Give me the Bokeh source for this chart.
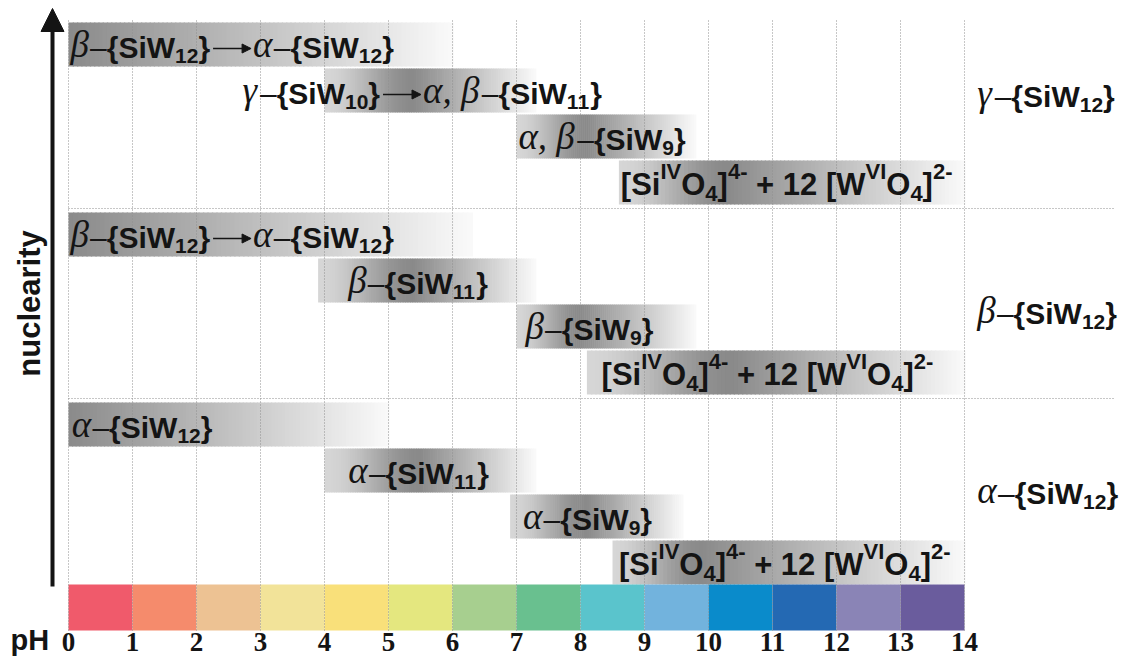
import numpy as np
from bokeh.plotting import figure
from bokeh.models import Range1d, ColumnDataSource, Arrow, NormalHead
from bokeh.core.properties import value
from bokeh.embed import file_html
from bokeh.resources import INLINE

# ---------------- data ----------------
ph_ticks = list(range(15))
ph_tick_labels = [str(t) for t in ph_ticks]
ph_colors = ["#F05A6B", "#F58B6C", "#EDC293", "#F2E399", "#F9E07A", "#E4E77F", "#A7CF8F",
             "#69C08F", "#5AC4CC", "#72B3DD", "#0A8BCB", "#2469B3", "#8A84B6", "#6A5C9D"]

groups = ["γ–{SiW_(12)}", "β–{SiW_(12)}", "α–{SiW_(12)}"]

species = [
    "β–{SiW_(12)}→α–{SiW_(12)}",
    "γ–{SiW_(10)}→α, β–{SiW_(11)}",
    "α, β–{SiW_(9)}",
    "[Si^(IV)O_(4)]^(4-) + 12 [W^(VI)O_(4)]^(2-)",
    "β–{SiW_(12)}→α–{SiW_(12)}",
    "β–{SiW_(11)}",
    "β–{SiW_(9)}",
    "[Si^(IV)O_(4)]^(4-) + 12 [W^(VI)O_(4)]^(2-)",
    "α–{SiW_(12)}",
    "α–{SiW_(11)}",
    "α–{SiW_(9)}",
    "[Si^(IV)O_(4)]^(4-) + 12 [W^(VI)O_(4)]^(2-)",
]
species_group = [0, 0, 0, 0, 1, 1, 1, 1, 2, 2, 2, 2]
bar_start = [0.0, 4.0, 7.0, 8.6, 0.0, 3.9, 7.0, 8.1, 0.0, 4.0, 6.9, 8.5]
bar_peak = [0.0, 5.4, 8.1, 10.3, 0.0, 5.4, 8.0, 10.4, 0.0, 5.5, 8.1, 9.9]
bar_end = [6.0, 7.3, 9.8, 14.0, 6.3, 7.3, 9.8, 14.0, 5.0, 7.3, 9.6, 14.0]
label_ph = [0.03, 2.72, 7.03, 8.63, 0.03, 4.37, 7.14, 8.33, 0.05, 4.37, 7.10, 8.60]

# ---------------- layout ----------------
W, H = 1132, 658
PX = 64.0                 # pixels per pH unit
X0 = 68.0                 # pixel of pH 0
x_range = Range1d(-X0 / PX, (W - X0) / PX)
y_range = Range1d(H, 0)   # vertical coordinate in pixels from the top

GROUP_TOP = [22, 212, 402]
PITCH = 46
BAR_H = 44
row_y = [GROUP_TOP[g] + BAR_H / 2 + PITCH * (i % 4) for i, g in enumerate(species_group)]
divider_y = [208, 398]
group_label_y = [106, 323, 503]
CBAR_TOP, CBAR_BOT = 584, 630
BASE_FIX = 0.35           # em shift that the text glyph applies to the alphabetic baseline

INK = "#141414"
SANS = "Liberation Sans"
SERIF = "Liberation Serif"

p = figure(width=W, height=H, x_range=x_range, y_range=y_range,
           output_backend="svg", toolbar_location=None, min_border=0,
           x_axis_location=None, y_axis_location=None)
p.grid.visible = False
p.outline_line_color = None
p.background_fill_color = "white"
p.border_fill_color = "white"

# ---------------- gradient bars ----------------
def smooth(t):
    t = np.clip(t, 0, 1)
    return t * t * (3 - 2 * t)

PEAK_G, EDGE_G, END_G = 138.0, 214.0, 250.0
L, R, T, B, C = [], [], [], [], []
for i in range(len(species)):
    s, pk, e = bar_start[i], bar_peak[i], bar_end[i]
    n = 90
    edges = np.linspace(s, e, n + 1)
    mids = (edges[:-1] + edges[1:]) / 2
    left_part = EDGE_G + (PEAK_G - EDGE_G) * smooth((mids - s) / max(pk - s, 1e-9))
    right_part = PEAK_G + (END_G - PEAK_G) * np.clip((mids - pk) / (e - pk), 0, 1)
    g = np.where(mids < pk, left_part, right_part)
    step = (e - s) / n
    for k in range(n):
        gv = int(round(min(255, max(0, g[k]))))
        L.append(edges[k])
        R.append(edges[k + 1] + step * 0.3)
        T.append(row_y[i] - BAR_H / 2)
        B.append(row_y[i] + BAR_H / 2)
        C.append("#%02x%02x%02x" % (gv, gv, gv))
p.quad(left=L, right=R, top=T, bottom=B, fill_color=C, line_color=None)

# ---------------- pH colour bar ----------------
p.quad(left=ph_ticks[:-1], right=ph_ticks[1:], top=CBAR_TOP, bottom=CBAR_BOT,
       fill_color=ph_colors, line_color=None)

# ---------------- dotted grid ----------------
p.segment(x0=ph_ticks, y0=20, x1=ph_ticks, y1=CBAR_BOT, line_color="#8f8f8f",
          line_width=1, line_dash="1 2")
p.segment(x0=0, y0=divider_y, x1=(1115 - X0) / PX, y1=divider_y, line_color="#8f8f8f",
          line_width=1, line_dash="1 2")

# ---------------- nuclearity arrow ----------------
ax_x = (52 - X0) / PX
p.add_layout(Arrow(end=NormalHead(size=23, fill_color=INK, line_color=INK),
                   x_start=ax_x, y_start=586, x_end=ax_x, y_end=8,
                   line_width=4, line_color=INK))
NUC_FS = 31
p.text(x=[(40 - BASE_FIX * NUC_FS - X0) / PX], y=[303], text=["nuclearity"], angle=np.pi / 2,
       text_align="center", text_baseline="alphabetic", text_color=INK,
       text_font=value(SANS), text_font_style="bold", text_font_size=f"{NUC_FS}px")

# ---------------- pH axis labels ----------------
TICK_FS = 27
p.text(x=ph_ticks, y=651 - BASE_FIX * TICK_FS, text=ph_tick_labels, text_align="center",
       text_baseline="alphabetic", text_color=INK,
       text_font=value("Liberation Sans Narrow"), text_font_style="bold",
       text_font_size=f"{TICK_FS}px")
PH_FS = 29
p.text(x=[(10 - X0) / PX], y=[650 - BASE_FIX * PH_FS], text=["pH"], text_align="left",
       text_baseline="alphabetic", text_color=INK,
       text_font=value(SANS), text_font_style="bold", text_font_size=f"{PH_FS}px")

# ---------------- formula labels ----------------
GREEK = set("αβγ")
BOLD_W = {' ': .278, '+': .584, '-': .333, '[': .333, ']': .333, '{': .389, '}': .389,
          'I': .278, 'O': .778, 'S': .667, 'V': .667, 'W': .944, 'i': .278}
GREEK_W = {'α': .56, 'β': .53, 'γ': .47, ',': .25, ' ': .25}
ARROW_LEN = 38


def tokenize(s):
    toks = []
    i = 0
    while i < len(s):
        c = s[i]
        if c in "_^" and i + 1 < len(s) and s[i + 1] == "(":
            j = s.index(")", i)
            toks.append([s[i + 2:j], "sub" if c == "_" else "sup"])
            i = j + 1
            continue
        if c in GREEK or (c in ", " and toks and toks[-1][1] == "g"):
            kind = "g"
        elif c == "–":
            kind = "d"
        elif c == "→":
            kind = "a"
        else:
            kind = "b"
        if toks and toks[-1][1] == kind:
            toks[-1][0] += c
        else:
            toks.append([c, kind])
        i += 1
    return toks


segs = {}
arrows = dict(x0=[], x1=[], y=[])


def put(font, style, size, x, y, txt, xo, space_w):
    lead = len(txt) - len(txt.lstrip(" "))
    txt = txt.strip(" ")
    if not txt:
        return
    d = segs.setdefault((font, style, size), dict(x=[], y=[], text=[], xo=[]))
    d["x"].append(x)
    d["y"].append(y - BASE_FIX * size)
    d["text"].append(txt)
    d["xo"].append(xo + lead * space_w)


def add_label(x, y, s, fs):
    off = 0.0
    small = round(fs * 0.7)
    for txt, kind in tokenize(s):
        if kind == "g":
            size = round(fs * 37 / 30)
            put(SERIF, "italic", size, x, y, txt, off, .25 * size)
            off += sum(GREEK_W.get(c, .5) for c in txt) * size
        elif kind == "d":
            put(SANS, "normal", fs, x, y, txt, off, .278 * fs)
            off += .556 * fs * len(txt)
        elif kind == "a":
            arrows["x0"].append(x + (off + 3) / PX)
            arrows["x1"].append(x + (off + 3 + ARROW_LEN) / PX)
            arrows["y"].append(y - 9)
            off += ARROW_LEN + 5
        elif kind == "b":
            put(SANS, "bold", fs, x, y, txt, off, .278 * fs)
            off += sum(BOLD_W.get(c, .556) for c in txt) * fs
        elif kind == "sub":
            put(SANS, "bold", small, x, y + 6, txt, off, .278 * small)
            off += sum(BOLD_W.get(c, .556) for c in txt) * small
        else:
            put(SANS, "bold", small, x, y - 16, txt, off, .278 * small)
            off += sum(BOLD_W.get(c, .556) for c in txt) * small


for i, s in enumerate(species):
    fs = 31 if s.startswith("[") else 30
    add_label(label_ph[i], row_y[i] + 13, s, fs)

for g, s in enumerate(groups):
    add_label(14.2, group_label_y[g], s, 30)

for (font, style, size), d in segs.items():
    p.text(x="x", y="y", text="text", x_offset="xo", source=ColumnDataSource(d),
           text_align="left", text_baseline="alphabetic", text_color=INK,
           text_font=value(font), text_font_style=style, text_font_size=f"{size}px")

p.add_layout(Arrow(source=ColumnDataSource(arrows), x_start="x0", y_start="y",
                   x_end="x1", y_end="y", line_width=1.6, line_color=INK,
                   end=NormalHead(size=9, fill_color=INK, line_color=INK, line_width=1)))

open("out.html", "w").write(file_html(p, INLINE))
